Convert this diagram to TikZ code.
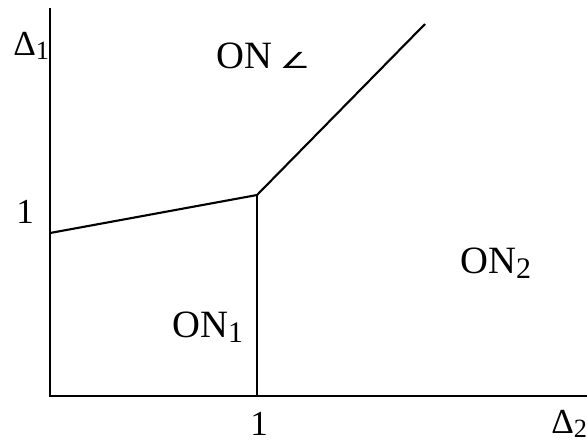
\documentclass[tikz,border=0pt]{standalone}
\usepackage{fontspec}
\setmainfont{Liberation Serif}
\newfontfamily\symfont{DejaVu Sans}
\usepackage{tikz}
\usetikzlibrary{positioning}
\newcommand{\lowidx}[1]{\raisebox{-0.3ex}{\fontsize{17}{17}\selectfont #1}}
\newcommand{\smallidx}[1]{\raisebox{-0.3ex}{\fontsize{15}{15}\selectfont #1}}

\begin{document}
\begin{tikzpicture}[
    x=0.02cm, y=-0.02cm,
    axis/.style={line width=1.2pt},
    border/.style={line width=1.2pt},
    region/.style={anchor=base west, inner sep=0pt, font=\fontsize{22}{26}\selectfont},
    tick/.style={anchor=base west, inner sep=0pt, font=\fontsize{20}{24}\selectfont}
]
    \useasboundingbox (0,0) rectangle (587,441);

    % axes
    \coordinate (o) at (50,396);
    \coordinate (ytop) at (50,8);
    \coordinate (xend) at (587,396);
    \draw[axis] (ytop) -- (o) -- (xend);

    % region borders
    \coordinate (a) at (50,233);
    \coordinate (k) at (257,195);
    \coordinate (kb) at (257,396);
    \coordinate (d) at (425,24);
    \draw[border] (a) -- (k) -- (d);
    \draw[border] (k) -- (kb);

    % labels
    \node[tick] (d1) at (13,55) {Δ\smallidx{1}};
    \node[tick] (d2) at (551,433) {Δ\smallidx{2}};
    \node[tick] (one1) at (16,223) {1};
    \node[tick] (one2) at (250,435) {1};

    \node[region] (onang) at (216,68) {ON\hspace{0.15cm}\scalebox{1.4}[0.9]{\symfont\fontsize{14}{16}\selectfont ∠}};
    \node[region] (on1) at (172,337) {ON\lowidx{1}};
    \node[region] (on2) at (460,273) {ON\lowidx{2}};
\end{tikzpicture}
\end{document}
